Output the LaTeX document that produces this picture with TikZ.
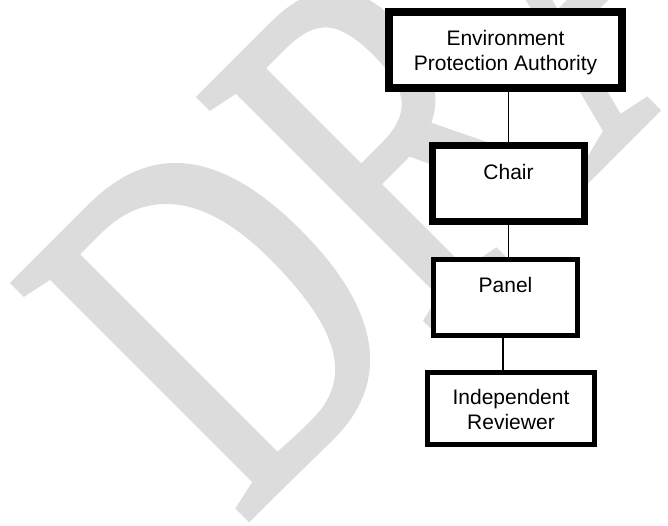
\documentclass[tikz,border=0pt]{standalone}
\usepackage{fontspec}
\setmainfont{Liberation Sans}
\newfontfamily\wmfont[FakeBold=1.4]{Liberation Serif}
\usetikzlibrary{calc}
\definecolor{wm}{HTML}{DCDCDC}
\begin{document}
\begin{tikzpicture}[x=1pt,y=-1pt,
  box/.style={draw=black, fill=white, inner sep=0pt},
  lbl/.style={align=center, inner sep=0pt, font=\fontsize{21}{25}\selectfont},
  link/.style={draw=black, line width=1.8pt}]
\useasboundingbox (0,0) rectangle (668,525);
\begin{scope}
  \clip (0,0) rectangle (668,525);
  \node[anchor=base west, inner sep=0pt, rotate=45, xscale=0.72, text=wm,
        font=\wmfont\fontsize{506}{506}\selectfont] (wm) at (241,525.5) {DRAFT};
\end{scope}
% boxes
\node[box, line width=8pt, minimum width=233pt, minimum height=76pt] (epa) at (505.5,50) {};
\node[box, line width=7.3pt, minimum width=151.8pt, minimum height=75.8pt] (chair) at (508.5,183.5) {};
\node[box, line width=5pt, minimum width=144pt, minimum height=76pt] (panel) at (505.5,297.5) {};
\node[box, line width=5.3pt, minimum width=166.6pt, minimum height=71.6pt] (rev) at (511,408.5) {};
% labels
\node[lbl] (epat) at ($(epa.center)+(0,3.3)$) {\strut Environment\\\strut Protection Authority};
\node[lbl] (chairt) at ($(chair.center)+(0,3)$) {\strut Chair\\\strut};
\node[lbl] (panelt) at ($(panel.center)+(0,2.5)$) {\strut Panel\\\strut};
\node[lbl] (revt) at ($(rev.center)+(0,3.3)$) {\strut Independent\\\strut Reviewer};
% connectors
\draw[link] (chair.north) -- (chair.north |- epa.south);
\draw[link] (chair.south) -- (chair.south |- panel.north);
\draw[link] ($(panel.south)+(-2.5,0)$) -- ($(panel.south |- rev.north)+(-2.5,0)$);
\end{tikzpicture}
\end{document}
